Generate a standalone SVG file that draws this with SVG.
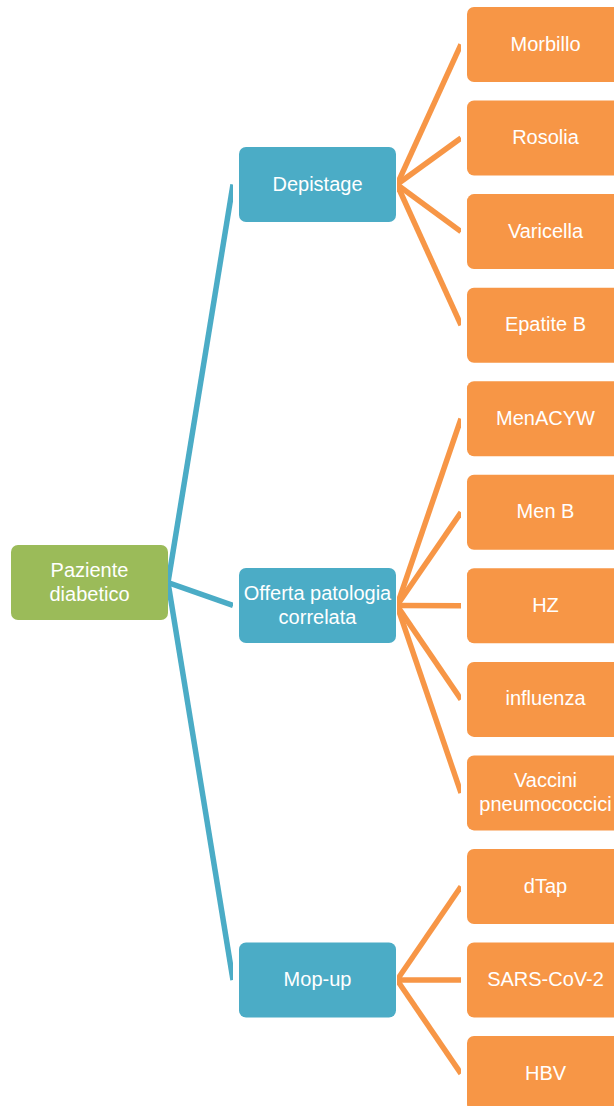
<svg xmlns="http://www.w3.org/2000/svg" width="614" height="1106" viewBox="0 0 614 1106">
<style>
.root{fill:#9BBB59}
.mid{fill:#4BACC6}
.leaf{fill:#F79646}
.t{fill:#ffffff;font-family:"Liberation Sans",Arial,sans-serif;font-size:20px;text-anchor:middle}
.cb{stroke:#4BACC6;stroke-width:5.5;fill:none}
.co{stroke:#F79646;stroke-width:5.5;fill:none}
</style>
<defs>
<clipPath id="clipB"><rect x="168" y="0" width="65" height="1106"/></clipPath>
<clipPath id="clipO"><rect x="397" y="0" width="64" height="1106"/></clipPath>
</defs>
<rect width="614" height="1106" fill="#ffffff"/>
<g id="connectors">
<g clip-path="url(#clipB)">
<line class="cb" x1="168" y1="582.5" x2="233" y2="184.5"/>
<line class="cb" x1="168" y1="582.5" x2="233" y2="605.5"/>
<line class="cb" x1="168" y1="582.5" x2="233" y2="980"/>
</g>
<g clip-path="url(#clipO)">
<line class="co" x1="397" y1="184.5" x2="461" y2="44.5"/>
<line class="co" x1="397" y1="184.5" x2="461" y2="138"/>
<line class="co" x1="397" y1="184.5" x2="461" y2="231.6"/>
<line class="co" x1="397" y1="184.5" x2="461" y2="325.2"/>
<line class="co" x1="397" y1="605.5" x2="461" y2="418.7"/>
<line class="co" x1="397" y1="605.5" x2="461" y2="512.3"/>
<line class="co" x1="397" y1="605.5" x2="461" y2="605.8"/>
<line class="co" x1="397" y1="605.5" x2="461" y2="699.4"/>
<line class="co" x1="397" y1="605.5" x2="461" y2="792.9"/>
<line class="co" x1="397" y1="980" x2="461" y2="886.5"/>
<line class="co" x1="397" y1="980" x2="461" y2="980"/>
<line class="co" x1="397" y1="980" x2="461" y2="1073.6"/>
</g>
</g>
<g id="n-root"><rect class="root" x="11" y="545" width="157" height="75" rx="7"/><text class="t" x="89.5" y="576.5">Paziente</text><text class="t" x="89.5" y="600.5">diabetico</text></g>
<g id="n-depistage"><rect class="mid" x="239" y="147" width="157" height="75" rx="7"/><text class="t" x="317.5" y="190.5">Depistage</text></g>
<g id="n-offerta"><rect class="mid" x="239" y="568" width="157" height="75" rx="7"/><text class="t" x="317.5" y="599.5">Offerta patologia</text><text class="t" x="317.5" y="623.5">correlata</text></g>
<g id="n-mopup"><rect class="mid" x="239" y="942.5" width="157" height="75" rx="7"/><text class="t" x="317.5" y="986">Mop-up</text></g>
<g id="n-morbillo"><rect class="leaf" x="467" y="7" width="157" height="75" rx="7"/><text class="t" x="545.5" y="50.5">Morbillo</text></g>
<g id="n-rosolia"><rect class="leaf" x="467" y="100.5" width="157" height="75" rx="7"/><text class="t" x="545.5" y="144">Rosolia</text></g>
<g id="n-varicella"><rect class="leaf" x="467" y="194.1" width="157" height="75" rx="7"/><text class="t" x="545.5" y="237.6">Varicella</text></g>
<g id="n-epatiteb"><rect class="leaf" x="467" y="287.7" width="157" height="75" rx="7"/><text class="t" x="545.5" y="331.2">Epatite B</text></g>
<g id="n-menacyw"><rect class="leaf" x="467" y="381.2" width="157" height="75" rx="7"/><text class="t" x="545.5" y="424.7">MenACYW</text></g>
<g id="n-menb"><rect class="leaf" x="467" y="474.8" width="157" height="75" rx="7"/><text class="t" x="545.5" y="518.3">Men B</text></g>
<g id="n-hz"><rect class="leaf" x="467" y="568.3" width="157" height="75" rx="7"/><text class="t" x="545.5" y="611.8">HZ</text></g>
<g id="n-influenza"><rect class="leaf" x="467" y="661.9" width="157" height="75" rx="7"/><text class="t" x="545.5" y="705.4">influenza</text></g>
<g id="n-pneumo"><rect class="leaf" x="467" y="755.4" width="157" height="75" rx="7"/><text class="t" x="545.5" y="786.9">Vaccini</text><text class="t" x="545.5" y="810.9">pneumococcici</text></g>
<g id="n-dtap"><rect class="leaf" x="467" y="849" width="157" height="75" rx="7"/><text class="t" x="545.5" y="892.5">dTap</text></g>
<g id="n-sars"><rect class="leaf" x="467" y="942.5" width="157" height="75" rx="7"/><text class="t" x="545.5" y="986">SARS-CoV-2</text></g>
<g id="n-hbv"><rect class="leaf" x="467" y="1036" width="157" height="75" rx="7"/><text class="t" x="545.5" y="1079.6">HBV</text></g>
</svg>
